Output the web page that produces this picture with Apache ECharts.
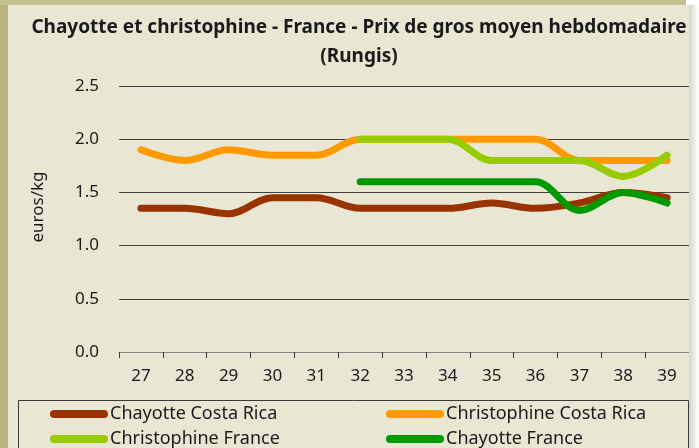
<!DOCTYPE html>
<html>
<head>
<meta charset="utf-8">
<script src="https://cdn.jsdelivr.net/npm/echarts@6/dist/echarts.min.js"></script>
<style>
  html, body { margin: 0; padding: 0; background: #ffffff; }
  #chart { width: 699px; height: 448px; }
</style>
</head>
<body>
<div id="chart"></div>
<script>
// semaines
var weeks = ['27', '28', '29', '30', '31', '32', '33', '34', '35', '36', '37', '38', '39'];
// prix en euros/kg
var chayotteCostaRica = [1.35, 1.35, 1.3, 1.45, 1.45, 1.35, 1.35, 1.35, 1.4, 1.35, 1.4, 1.5, 1.45];
var christophineCostaRica = [1.9, 1.8, 1.9, 1.85, 1.85, 2.0, 2.0, 2.0, 2.0, 2.0, 1.8, 1.8, 1.8];
var christophineFrance = [null, null, null, null, null, 2.0, 2.0, 2.0, 1.8, 1.8, 1.8, 1.65, 1.85];
var chayotteFrance = [null, null, null, null, null, 1.6, 1.6, 1.6, 1.6, 1.6, 1.33, 1.5, 1.4];

var font = 'Noto Sans';
var txt = '#1a1a1a';
var lineIcon = 'path://M4,0 L54,0 A4,4 0 0 1 54,8 L4,8 A4,4 0 0 1 4,0 Z';

function serie(name, data, color) {
  return {
    name: name,
    type: 'line',
    data: data,
    smooth: 0.35,
    showSymbol: false,
    connectNulls: false,
    lineStyle: { width: 7, color: color, cap: 'round', join: 'round' },
    itemStyle: { color: color }
  };
}

function legendCol(left, names) {
  return {
    orient: 'vertical',
    left: left, top: 403,
    height: 100,
    padding: 0,
    itemWidth: 58, itemHeight: 8, itemGap: 3,
    icon: lineIcon,
    data: names,
    textStyle: { fontFamily: font, fontSize: 18, color: txt, lineHeight: 22, padding: [0, 0, 0, -3] }
  };
}

var myChart = echarts.init(document.getElementById('chart'));
var option = {
  backgroundColor: '#e9e7d4',
  animation: false,
  textStyle: { fontFamily: font },
  title: {
    text: 'Chayotte et christophine - France - Prix de gros moyen hebdomadaire\n(Rungis)',
    left: 354,
    top: 8,
    textAlign: 'center',
    textStyle: { fontFamily: font, fontSize: 19, fontWeight: 'bold', color: txt, lineHeight: 29 }
  },
  graphic: [
    { type: 'rect', shape: { x: 0, y: 0, width: 8, height: 448 }, style: { fill: '#b9b583' }, z: 100 },
    { type: 'rect', shape: { x: 0, y: 0, width: 686, height: 5 }, style: { fill: '#c2bf91' }, z: 100 },
    { type: 'rect', shape: { x: 686, y: 0, width: 13, height: 5 }, style: { fill: '#ffffff' }, z: 100 },
    {
      type: 'rect', shape: { x: 689, y: 5, width: 10, height: 443 }, z: 100,
      style: { fill: new echarts.graphic.LinearGradient(0, 0, 1, 0, [{ offset: 0, color: '#d6d5c8' }, { offset: 1, color: '#ffffff' }]) }
    },
    { type: 'rect', shape: { x: 18.5, y: 400.5, width: 670, height: 60 }, style: { fill: 'none', stroke: '#3a3a3a', lineWidth: 1 }, z: 50 }
  ],
  legend: [
    legendCol(50, ['Chayotte Costa Rica', 'Christophine France']),
    legendCol(386, ['Christophine Costa Rica', 'Chayotte France'])
  ],
  grid: { left: 119, right: 10, top: 86, bottom: 96, containLabel: false },
  xAxis: {
    type: 'category',
    data: weeks,
    boundaryGap: true,
    axisLine: { lineStyle: { color: '#868686', width: 1 } },
    axisTick: { show: true, length: 6, lineStyle: { color: '#3a3a3a' } },
    axisLabel: { fontFamily: font, fontSize: 17, color: txt, margin: 16 },
    splitLine: { show: false }
  },
  yAxis: {
    type: 'value',
    min: 0, max: 2.5, interval: 0.5,
    name: 'euros/kg',
    nameLocation: 'middle',
    nameGap: 72,
    nameTextStyle: { fontFamily: font, fontSize: 17, color: txt, padding: [0, 0, 0, 24] },
    axisLine: { show: false },
    axisTick: { show: false },
    axisLabel: { fontFamily: font, fontSize: 17, color: txt, margin: 20, formatter: function (v) { return v.toFixed(1); } },
    splitLine: { lineStyle: { color: '#404040', width: 1 } }
  },
  series: [
    serie('Chayotte Costa Rica', chayotteCostaRica, '#993300'),
    serie('Christophine Costa Rica', christophineCostaRica, '#ff9900'),
    serie('Christophine France', christophineFrance, '#99cc00'),
    serie('Chayotte France', chayotteFrance, '#009900')
  ]
};
myChart.setOption(option);
</script>
</body>
</html>
